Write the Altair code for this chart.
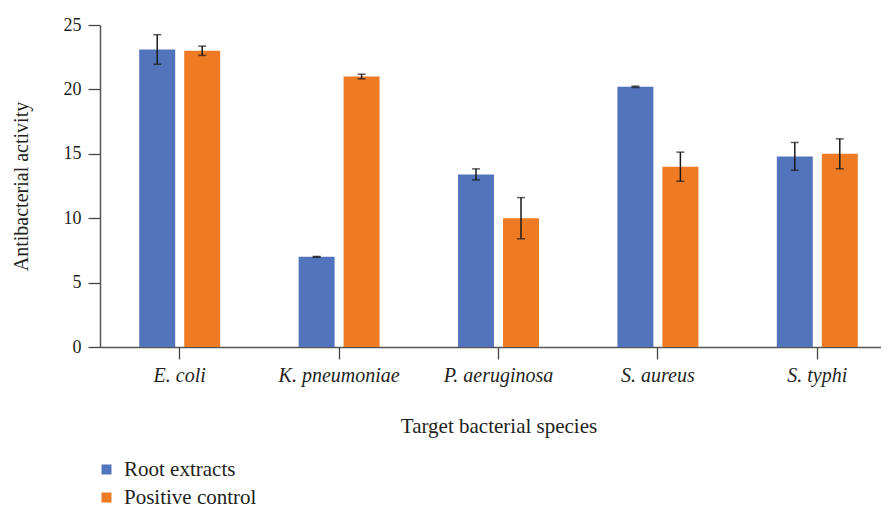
import altair as alt
import pandas as pd

species = ["E. coli", "K. pneumoniae", "P. aeruginosa", "S. aureus", "S. typhi"]
groups = ["Root extracts", "Positive control"]
root_mean = [23.1, 7.0, 13.4, 20.2, 14.8]
root_err = [1.15, 0.03, 0.43, 0.05, 1.08]
ctrl_mean = [23.0, 21.0, 10.0, 14.0, 15.0]
ctrl_err = [0.36, 0.18, 1.6, 1.13, 1.16]
colors = ["#5274BC", "#EE7A23"]

rows = []
for g, means, errs in [(groups[0], root_mean, root_err), (groups[1], ctrl_mean, ctrl_err)]:
    for s, m, e in zip(species, means, errs):
        rows.append({"species": s, "group": g, "value": m, "lo": m - e, "hi": m + e})
df = pd.DataFrame(rows)

FONT = "'Liberation Serif', 'Times New Roman', Times, serif"
TXT = "#231F20"

x = alt.X(
    "species:N",
    sort=species,
    scale=alt.Scale(paddingInner=0.492, paddingOuter=0.246),
    axis=alt.Axis(
        title="Target bacterial species",
        labelFontStyle="italic",
        labelFont=FONT,
        labelFontSize=20,
        labelColor=TXT,
        labelAngle=0,
        labelPadding=6,
        tickSize=12,
        tickColor="#444444",
        tickWidth=1.3,
        domainColor="#555555",
        domainWidth=1.5,
        titleFont=FONT,
        titleFontSize=21,
        titleFontWeight="normal",
        titleColor=TXT,
        titlePadding=30,
    ),
)
xo = alt.XOffset("group:N", sort=groups, scale=alt.Scale(paddingInner=0.2, paddingOuter=0))

base = alt.Chart(df)

bars = base.mark_bar().encode(
    x=x,
    xOffset=xo,
    y=alt.Y(
        "value:Q",
        scale=alt.Scale(domain=[0, 25], nice=False),
        axis=alt.Axis(
            title="Antibacterial activity",
            values=[0, 5, 10, 15, 20, 25],
            grid=False,
            labelFont=FONT,
            labelFontSize=18,
            labelColor=TXT,
            labelPadding=7,
            tickSize=12,
            tickColor="#444444",
            tickWidth=1.3,
            domainColor="#555555",
            domainWidth=1.5,
            titleFont=FONT,
            titleFontSize=20,
            titleFontWeight="normal",
            titleColor=TXT,
            titlePadding=32,
        ),
    ),
    color=alt.Color(
        "group:N",
        sort=groups,
        scale=alt.Scale(domain=groups, range=colors),
        legend=alt.Legend(
            title=None,
            orient="none",
            legendX=-4,
            legendY=434,
            symbolType="square",
            symbolSize=100,
            symbolStrokeWidth=0,
            labelFont=FONT,
            labelFontSize=21,
            labelColor=TXT,
            labelOffset=7,
            rowPadding=6,
            padding=0,
        ),
    ),
)

rule = base.mark_rule(color="#1a1a1a", strokeWidth=1.5).encode(
    x=x, xOffset=xo, y="lo:Q", y2="hi:Q"
)
cap_lo = base.mark_tick(color="#1a1a1a", thickness=1.5, size=8).encode(
    x=x, xOffset=xo, y="lo:Q"
)
cap_hi = base.mark_tick(color="#1a1a1a", thickness=1.5, size=8).encode(
    x=x, xOffset=xo, y="hi:Q"
)

chart = (
    alt.layer(bars, rule, cap_lo, cap_hi)
    .properties(
        width=797,
        height=322,
        autosize=alt.AutoSizeParams(type="none"),
        padding={"left": 92, "top": 17, "right": -16, "bottom": 160},
    )
    .configure_view(stroke=None)
)

chart.save("out.html", embed_options={"renderer": "svg", "actions": False})
